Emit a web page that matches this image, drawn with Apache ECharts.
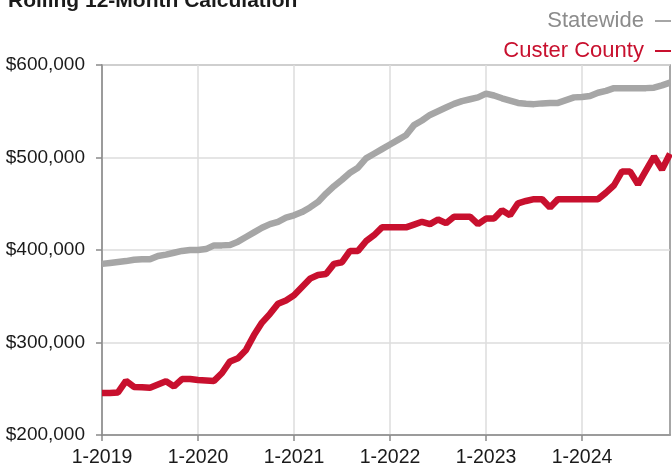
<!DOCTYPE html>
<html>
<head>
<meta charset="utf-8">
<script src="https://cdn.jsdelivr.net/npm/echarts@6/dist/echarts.min.js"></script>
<style>
  html, body { margin: 0; padding: 0; background: #fff; }
  #main { width: 672px; height: 468px; }
</style>
</head>
<body>
<div id="main"></div>
<script>
// months 1-2019 .. 12-2024
var months = [];
for (var y = 2019; y <= 2024; y++) {
  for (var m = 1; m <= 12; m++) {
    months.push(m + '-' + y);
  }
}

// Rolling 12-month median sales price
var statewide = [
  385000, 386000, 387000, 388000, 389500, 390000, 390000, 393500, 395000, 397000, 399000, 400000,
  400000, 401000, 405000, 405000, 405500, 409000, 414000, 419000, 424000, 428000, 430500, 435000,
  437500, 441000, 446000, 452000, 461000, 469000, 476000, 483500, 489000, 499000, 504000, 509000,
  514000, 519000, 524000, 535000, 540000, 546000, 550000, 554000, 558000, 561000, 563000, 565000,
  569000, 567000, 564000, 561500, 559000, 558000, 557700, 558500, 559000, 559000, 562000, 565000,
  565500, 566500, 570000, 572000, 575000, 575000, 575000, 575000, 575000, 575500, 578000, 581000
];

var custer = [
  245500, 245500, 246000, 258500, 252000, 251500, 251000, 254500, 258000, 252500, 260500, 260500,
  259500, 259000, 258500, 267000, 279500, 283000, 292000, 308000, 321500, 331000, 342000, 345500,
  351000, 360000, 369000, 373000, 374000, 385000, 386800, 399000, 399000, 409500, 416000, 424500,
  424500, 424500, 424500, 427500, 430500, 428000, 433000, 429000, 436000, 436000, 436000, 428000,
  434000, 434000, 443000, 437500, 450500, 453000, 455000, 455000, 446000, 455000, 455000, 455000,
  455000, 455000, 455000, 462000, 470000, 485000, 485000, 471000, 486000, 501000, 487000, 504000
];

var seriesNames = ['Statewide', 'Custer County'];
var seriesColors = ['#a6a6a6', '#c8102e'];

var chart = echarts.init(document.getElementById('main'));

var option = {
  backgroundColor: '#fff',
  animation: false,
  title: {
    text: 'Rolling 12-Month Calculation',
    left: 3,
    top: -14,
    textStyle: {
      fontFamily: 'Liberation Sans',
      fontSize: 21,
      fontWeight: 'bold',
      color: '#1a1a1a'
    }
  },
  legend: [
    {
      data: [seriesNames[0]],
      right: -4,
      top: 5,
      align: 'right',
      icon: 'rect',
      itemWidth: 16,
      itemHeight: 2,
      formatter: function (name) { return name + ' '; },
      textStyle: { fontFamily: 'Liberation Sans', fontSize: 22, lineHeight: 22, color: '#8c8c8c' }
    },
    {
      data: [seriesNames[1]],
      right: -4,
      top: 35,
      align: 'right',
      icon: 'rect',
      itemWidth: 16,
      itemHeight: 2,
      formatter: function (name) { return name + ' '; },
      textStyle: { fontFamily: 'Liberation Sans', fontSize: 22, lineHeight: 22, color: '#c8102e' }
    }
  ],
  grid: {
    left: 102,
    right: 2,
    top: 65,
    bottom: 31,
    show: true,
    borderColor: '#8a8a8a',
    borderWidth: 1.5
  },
  xAxis: {
    type: 'category',
    boundaryGap: false,
    data: months,
    axisLine: { lineStyle: { color: '#8a8a8a', width: 1.5 } },
    axisTick: { interval: 11, length: 6, lineStyle: { color: '#8a8a8a', width: 1.5 } },
    axisLabel: {
      interval: 11,
      margin: 13,
      fontFamily: 'Liberation Sans',
      fontSize: 19.5,
      color: '#1a1a1a'
    },
    splitLine: { show: true, interval: 11, lineStyle: { color: '#dcdcdc', width: 1.5 } }
  },
  yAxis: {
    type: 'value',
    min: 200000,
    max: 600000,
    interval: 100000,
    axisLine: { show: true, lineStyle: { color: '#8a8a8a', width: 1.5 } },
    axisTick: { show: true, length: 6, lineStyle: { color: '#8a8a8a', width: 1.5 } },
    axisLabel: {
      margin: 17,
      fontFamily: 'Liberation Sans',
      fontSize: 19,
      color: '#1a1a1a',
      formatter: function (v) { return '$' + v.toLocaleString('en-US'); }
    },
    splitLine: { lineStyle: { color: '#dcdcdc', width: 1.5 } }
  },
  series: [
    {
      name: seriesNames[0],
      type: 'line',
      data: statewide,
      symbol: 'none',
      color: seriesColors[0],
      lineStyle: { width: 6.5, color: seriesColors[0] }
    },
    {
      name: seriesNames[1],
      type: 'line',
      data: custer,
      symbol: 'none',
      color: seriesColors[1],
      lineStyle: { width: 6.5, color: seriesColors[1] }
    }
  ]
};

chart.setOption(option);
</script>
</body>
</html>
